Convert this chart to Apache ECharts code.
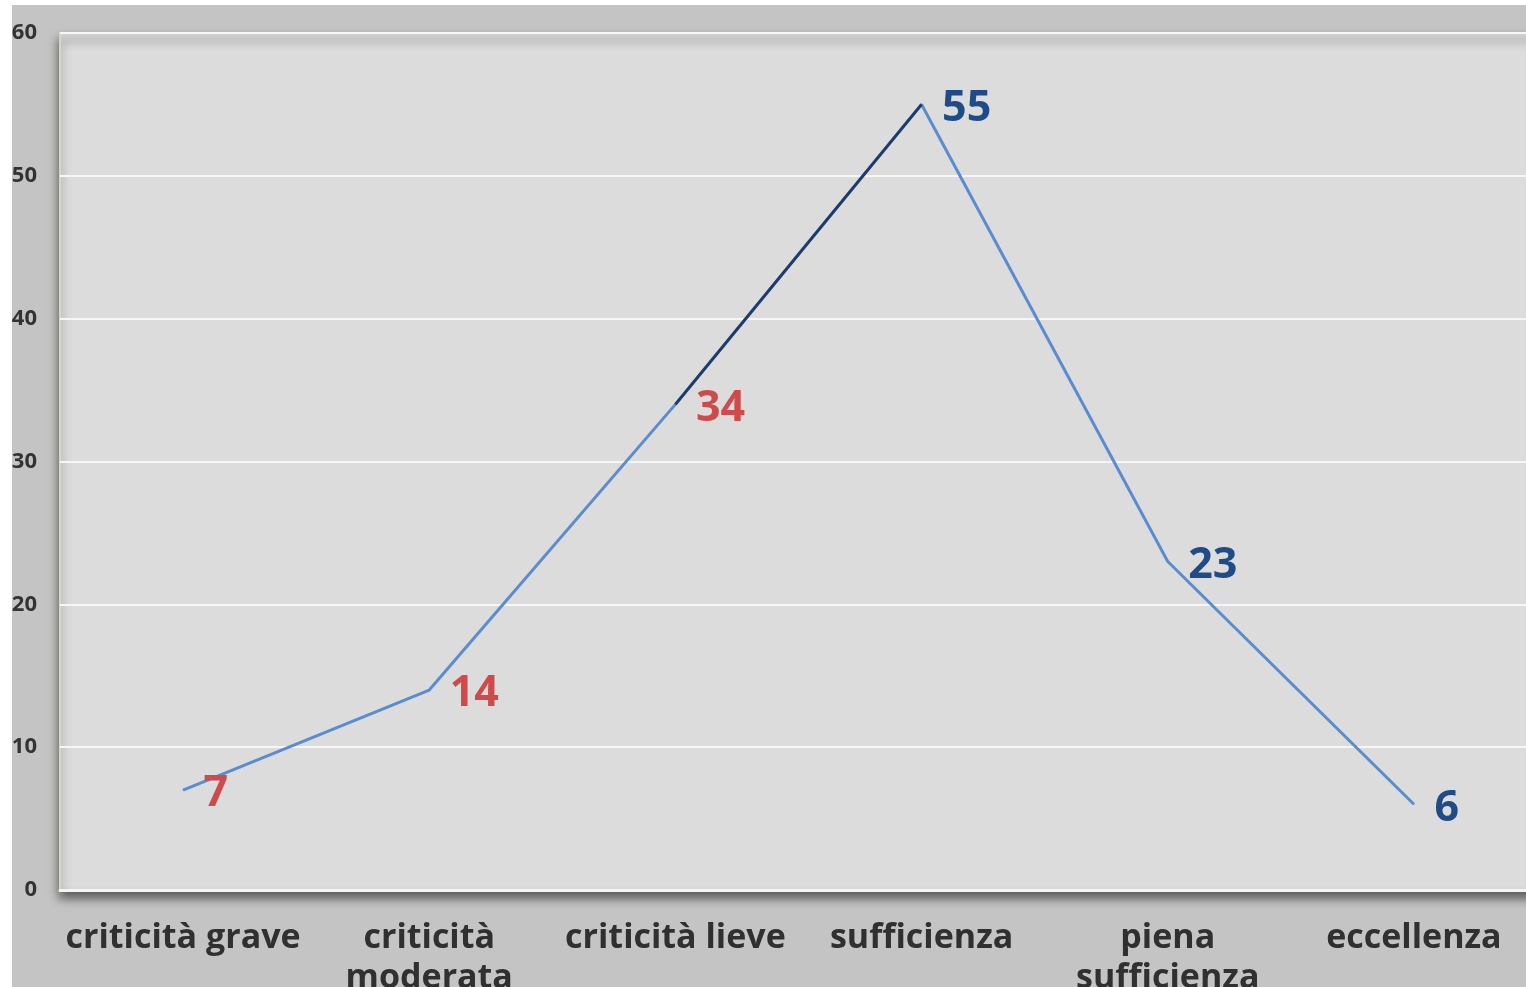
<!DOCTYPE html>
<html>
<head>
<meta charset="utf-8">
<script src="https://cdn.jsdelivr.net/npm/echarts@6/dist/echarts.min.js"></script>
<style>
  html, body { margin: 0; padding: 0; background: #ffffff; overflow: hidden; }
  #chart { position: absolute; left: 12px; top: 5px; width: 1514px; height: 982px; }
</style>
</head>
<body>
<div id="chart"></div>
<script>
// Livelli di valutazione e numero di casi per livello
const categories = [
  'criticità grave',
  'criticità\nmoderata',
  'criticità lieve',
  'sufficienza',
  'piena\nsufficienza',
  'eccellenza'
];
const values = [7, 14, 34, 55, 23, 6];
// esito di ciascun livello: critico o positivo
const tones = ['critico', 'critico', 'critico', 'positivo', 'positivo', 'positivo'];
const yTicks = [0, 10, 20, 30, 40, 50, 60];

const LINE_COLOR = '#5a8ccf';
const PEAK_COLOR = '#1f3c68';
const TONE_COLOR = { critico: '#cf4a4a', positivo: '#1f4b86' };

// tratto scuro tra "criticità lieve" e "sufficienza"
const peakIdx = [2, 3];
const peakData = values.map((v, i) => (peakIdx.includes(i) ? v : '-'));

const labelledData = values.map((v, i) => ({
  value: v,
  label: { color: TONE_COLOR[tones[i]] }
}));

const chart = echarts.init(document.getElementById('chart'));
chart.setOption({
  backgroundColor: '#c4c4c4',
  animation: false,
  grid: {
    show: true,
    left: 48,
    top: 28,
    width: 1477,
    bottom: 97,
    outerBoundsMode: 'none',
    containLabel: false,
    backgroundColor: '#dcdcdc',
    borderColor: '#d4d8c2',
    borderWidth: 2,
    shadowColor: 'rgba(0,0,0,0.55)',
    shadowBlur: 10,
    shadowOffsetY: 7
  },
  xAxis: {
    type: 'category',
    data: categories,
    boundaryGap: true,
    axisLine: { show: true, lineStyle: { color: '#f4f4f4', width: 3 } },
    axisTick: { show: false },
    axisLabel: {
      interval: 0,
      margin: 28,
      color: '#303030',
      fontFamily: 'Open Sans',
      fontWeight: 'bold',
      fontSize: 34,
      lineHeight: 40
    }
  },
  yAxis: {
    type: 'value',
    min: yTicks[0],
    max: yTicks[yTicks.length - 1],
    interval: yTicks[1] - yTicks[0],
    axisLine: { show: false },
    axisTick: { show: false },
    splitLine: { lineStyle: { color: '#f6f6f6', width: 2 } },
    axisLabel: {
      margin: 23,
      color: '#333333',
      fontFamily: 'Open Sans',
      fontWeight: 'bold',
      fontSize: 22
    }
  },
  series: [
    {
      type: 'line',
      data: labelledData,
      symbol: 'circle',
      symbolSize: 1,
      showSymbol: true,
      itemStyle: { color: LINE_COLOR },
      lineStyle: { color: LINE_COLOR, width: 3 },
      label: {
        show: true,
        position: 'right',
        distance: 20,
        offset: [0, 4],
        fontFamily: 'Open Sans',
        fontWeight: 'bold',
        fontSize: 43
      },
      z: 2
    },
    {
      type: 'line',
      data: peakData,
      symbol: 'none',
      connectNulls: false,
      lineStyle: { color: PEAK_COLOR, width: 3 },
      z: 3
    }
  ]
});
</script>
</body>
</html>
